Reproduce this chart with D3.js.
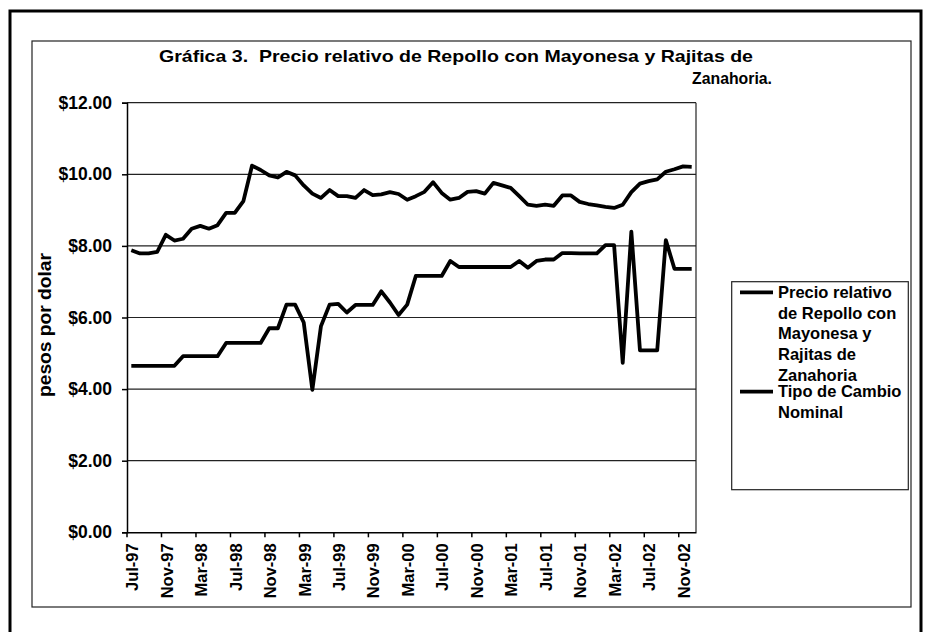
<!DOCTYPE html>
<html>
<head>
<meta charset="utf-8">
<script src="https://cdn.jsdelivr.net/npm/d3@7"></script>
<style>
  body { margin: 0; background: #fff; }
  svg { display: block; }
  text { font-family: "Liberation Sans", Arial, sans-serif; font-weight: bold; fill: #000; }
</style>
</head>
<body>
<svg id="chart" width="928" height="632"></svg>
<script>
const categories = [
  "Jul-97","Aug-97","Sep-97","Oct-97","Nov-97","Dec-97",
  "Jan-98","Feb-98","Mar-98","Apr-98","May-98","Jun-98","Jul-98","Aug-98","Sep-98","Oct-98","Nov-98","Dec-98",
  "Jan-99","Feb-99","Mar-99","Apr-99","May-99","Jun-99","Jul-99","Aug-99","Sep-99","Oct-99","Nov-99","Dec-99",
  "Jan-00","Feb-00","Mar-00","Apr-00","May-00","Jun-00","Jul-00","Aug-00","Sep-00","Oct-00","Nov-00","Dec-00",
  "Jan-01","Feb-01","Mar-01","Apr-01","May-01","Jun-01","Jul-01","Aug-01","Sep-01","Oct-01","Nov-01","Dec-01",
  "Jan-02","Feb-02","Mar-02","Apr-02","May-02","Jun-02","Jul-02","Aug-02","Sep-02","Oct-02","Nov-02","Dec-02"
];

const precioRelativo = [
  4.65,4.65,4.65,4.65,4.65,4.65,
  4.92,4.92,4.92,4.92,4.92,5.29,5.29,5.29,5.29,5.29,5.70,5.70,
  6.36,6.36,5.86,3.98,5.76,6.36,6.38,6.14,6.35,6.35,6.35,6.73,
  6.42,6.07,6.36,7.16,7.16,7.16,7.16,7.58,7.41,7.41,7.41,7.41,
  7.41,7.41,7.41,7.58,7.39,7.58,7.62,7.62,7.80,7.80,7.79,7.79,
  7.79,8.02,8.02,4.73,8.40,5.08,5.08,5.08,8.16,7.36,7.36,7.36
];

const tipoCambio = [
  7.88,7.79,7.79,7.83,8.31,8.15,
  8.20,8.48,8.56,8.48,8.58,8.92,8.92,9.25,10.24,10.12,9.97,9.91,
  10.07,9.97,9.69,9.46,9.34,9.56,9.39,9.39,9.34,9.56,9.42,9.44,
  9.50,9.45,9.29,9.39,9.51,9.78,9.48,9.29,9.34,9.51,9.53,9.46,
  9.76,9.69,9.62,9.39,9.15,9.12,9.15,9.12,9.41,9.41,9.23,9.17,
  9.13,9.09,9.06,9.15,9.50,9.74,9.81,9.86,10.07,10.14,10.22,10.21
];

const yTicks = [0, 2, 4, 6, 8, 10, 12];
const xTickLabels = ["Jul-97","Nov-97","Mar-98","Jul-98","Nov-98","Mar-99","Jul-99","Nov-99",
  "Mar-00","Jul-00","Nov-00","Mar-01","Jul-01","Nov-01","Mar-02","Jul-02","Nov-02"];

const titleLines = ["Gráfica 3.  Precio relativo de Repollo con Mayonesa y Rajitas de", "Zanahoria."];
const yAxisTitle = "pesos por dolar";
const seriesNames = [
  ["Precio relativo", "de Repollo con", "Mayonesa y", "Rajitas de", "Zanahoria"],
  ["Tipo de Cambio", "Nominal"]
];

const svg = d3.select("#chart");
svg.append("rect").attr("width", 928).attr("height", 632).attr("fill", "#fff");

// outer frame
svg.append("path").attr("d", "M10,632 V11 H921 V632")
  .attr("fill", "none").attr("stroke", "#000").attr("stroke-width", 3);
// chart area box
svg.append("rect").attr("x", 32).attr("y", 41).attr("width", 879).attr("height", 566)
  .attr("fill", "none").attr("stroke", "#222").attr("stroke-width", 1.2);

const pL = 127, pR = 696, pT = 102.7, pB = 532.3;
const x = d3.scaleBand().domain(categories).range([pL, pR]).paddingInner(0).paddingOuter(0);
const y = d3.scaleLinear().domain([0, 12]).range([pB, pT]);
const cx = d => x(d) + x.bandwidth() / 2;

// gridlines
svg.append("g").selectAll("line").data(yTicks.filter(d => d > 0)).join("line")
  .attr("x1", pL).attr("x2", pR)
  .attr("y1", d => y(d)).attr("y2", d => y(d))
  .attr("stroke", "#222").attr("stroke-width", 1.2);
// right plot border
svg.append("line").attr("x1", pR).attr("x2", pR).attr("y1", pT).attr("y2", pB)
  .attr("stroke", "#222").attr("stroke-width", 1.2);

// y axis
const yAxis = svg.append("g").attr("transform", `translate(${pL},0)`)
  .call(d3.axisLeft(y).tickValues(yTicks).tickSize(5).tickPadding(10)
    .tickFormat(d => "$" + d.toFixed(2)));
yAxis.selectAll("text").style("font-size", "17.5px").style("font-family", '"Liberation Sans", Arial, sans-serif');
yAxis.selectAll("line, path").attr("stroke", "#000").attr("stroke-width", 1.5);

// x axis
const xAxis = svg.append("g").attr("transform", `translate(0,${pB})`)
  .call(d3.axisBottom(x).tickValues(xTickLabels).tickSize(0));
xAxis.select(".domain").attr("stroke", "#000").attr("stroke-width", 1.5);
xAxis.selectAll(".tick text")
  .attr("transform", "rotate(-90)")
  .attr("x", -11).attr("y", 1).attr("dy", "0.35em")
  .attr("text-anchor", "end")
  .style("font-size", "16.5px").style("font-family", '"Liberation Sans", Arial, sans-serif');
// tick marks at category boundaries
svg.append("g").selectAll("line").data(xTickLabels).join("line")
  .attr("x1", d => x(d)).attr("x2", d => x(d))
  .attr("y1", pB).attr("y2", pB + 5)
  .attr("stroke", "#000").attr("stroke-width", 1.5);

// lines
const line = d3.line().x((d, i) => cx(categories[i])).y(d => y(d));
[precioRelativo, tipoCambio].forEach(s => {
  svg.append("path").datum(s).attr("d", line)
    .attr("fill", "none").attr("stroke", "#000").attr("stroke-width", 3.8)
    .attr("stroke-linejoin", "round");
});

// title
svg.append("text").attr("x", 456).attr("y", 62).attr("text-anchor", "middle")
  .attr("textLength", 594).attr("lengthAdjust", "spacingAndGlyphs")
  .style("white-space", "pre")
  .style("font-size", "16.5px").text(titleLines[0]);
svg.append("text").attr("x", 732).attr("y", 84).attr("text-anchor", "middle")
  .attr("textLength", 80).attr("lengthAdjust", "spacingAndGlyphs")
  .style("font-size", "16.5px").text(titleLines[1]);

// y axis title
svg.append("text").attr("transform", "translate(51,325) rotate(-90)")
  .attr("text-anchor", "middle").attr("textLength", 144).attr("lengthAdjust", "spacingAndGlyphs")
  .style("font-size", "18px").text(yAxisTitle);

// legend
const lg = svg.append("g");
lg.append("rect").attr("x", 731.7).attr("y", 281.7).attr("width", 176.6).attr("height", 208)
  .attr("fill", "#fff").attr("stroke", "#222").attr("stroke-width", 1.2);
const entryY = [292.3, 391.7];
seriesNames.forEach((lines, k) => {
  lg.append("line").attr("x1", 740).attr("x2", 773).attr("y1", entryY[k]).attr("y2", entryY[k])
    .attr("stroke", "#000").attr("stroke-width", 3.8);
  lines.forEach((t, j) => {
    lg.append("text").attr("x", 778).attr("y", entryY[k] + j * 20.7).attr("dy", "0.35em")
      .style("font-size", "16.5px").text(t);
  });
});
</script>
</body>
</html>
